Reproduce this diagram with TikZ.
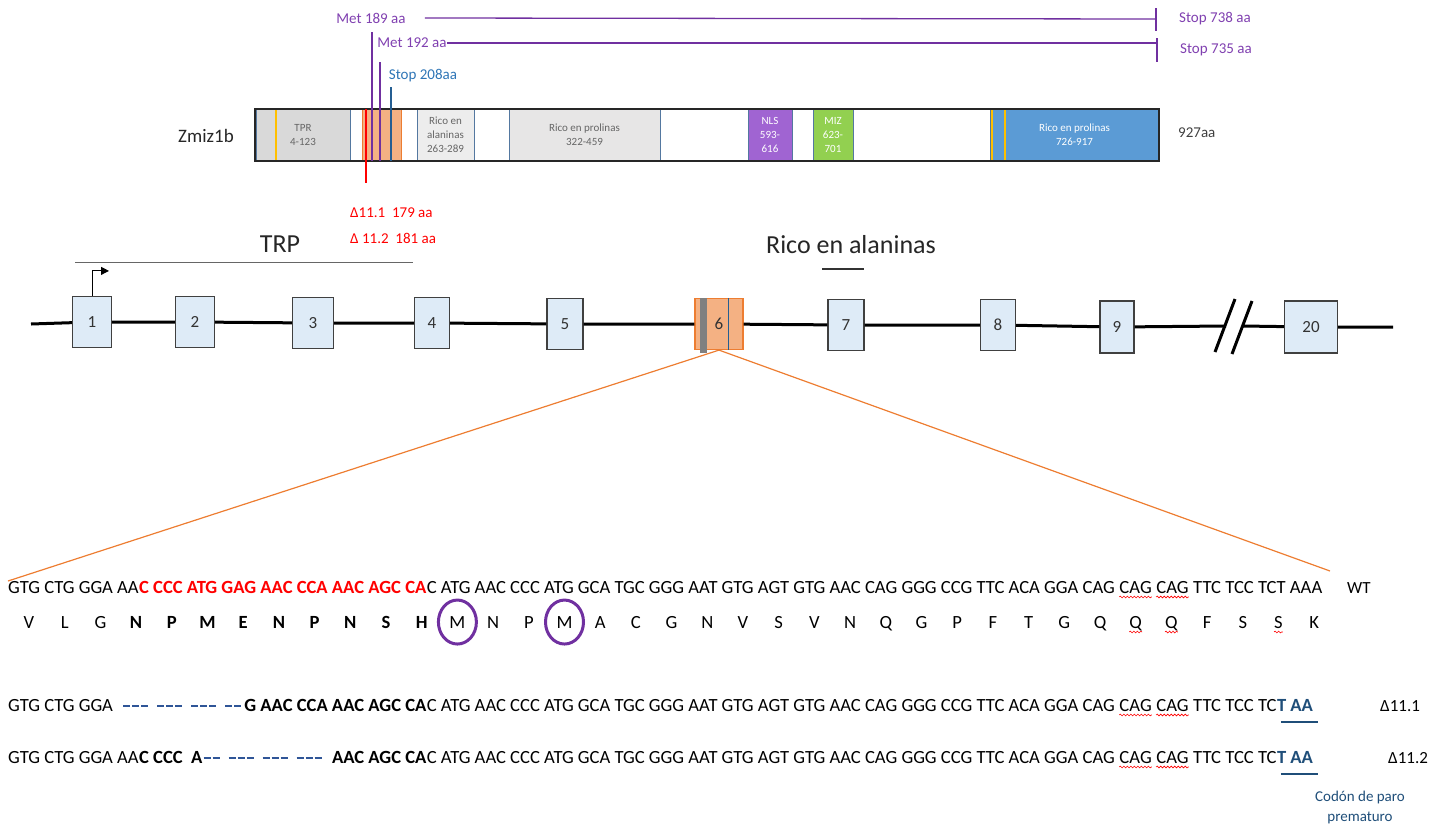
\documentclass[tikz,border=0pt]{standalone}
\usepackage{fontspec}
\setmainfont{Carlito}
\usetikzlibrary{arrows.meta,decorations.pathmorphing}
\definecolor{metpurple}{RGB}{112,48,160}
\definecolor{labpurple}{RGB}{128,64,176}
\definecolor{stopblue}{RGB}{46,117,182}
\definecolor{exonfill}{RGB}{222,235,247}
\definecolor{exondraw}{RGB}{64,64,64}
\definecolor{salmon}{RGB}{244,177,131}
\definecolor{orangeline}{RGB}{237,125,49}
\definecolor{ambar}{RGB}{255,192,0}
\definecolor{domgray}{RGB}{217,217,217}
\definecolor{domlight}{RGB}{231,230,230}
\definecolor{domedge}{RGB}{84,120,160}
\definecolor{nlspurple}{RGB}{160,100,210}
\definecolor{mizgreen}{RGB}{146,208,80}
\definecolor{prolblue}{RGB}{91,155,213}
\definecolor{dashblue}{RGB}{47,85,151}
\definecolor{codonblue}{RGB}{31,78,121}
\tikzset{
  exonbox/.style={draw=exondraw,fill=exonfill,line width=1.2pt,minimum height=51pt,inner sep=0pt,text=black!80,font=\fontsize{17}{19}\selectfont},
  domainbox/.style={draw=domedge,line width=1pt,minimum height=52pt,inner sep=0pt,align=center,text=black!60,font=\fontsize{11}{14}\selectfont},
  backbone/.style={line width=3pt,black},
  seqtext/.style={inner sep=0pt,anchor=base west,font=\fontsize{18.6}{22}\selectfont},
  seqbold/.style={seqtext,font=\fontsize{18.6}{22}\selectfont\bfseries},
  aatext/.style={inner sep=0pt,anchor=base,font=\fontsize{18.6}{22}\selectfont},
  spellwave/.style={red,line width=0.6pt,decorate,decoration={snake,amplitude=0.9pt,segment length=3.5pt}},
  gapdash/.style={dashblue,line width=2pt,dash pattern=on 7pt off 2pt on 7pt off 2pt on 7pt off 9pt},
  metline/.style={metpurple,line width=1.3pt},
  labtext/.style={inner sep=0pt,font=\fontsize{15}{18}\selectfont},
  zoomline/.style={orangeline,line width=1.2pt}
}

\begin{document}
\begin{tikzpicture}[x=1pt,y=-1pt]
  \useasboundingbox (0,0) rectangle (1442,828);
  % proteina
  \node[domainbox,fill=domgray,minimum width=94pt] (tpr) at (303,135) {TPR\\4-123};
  \node[domainbox,fill=salmon,draw=orangeline,minimum width=39pt] (pex6) at (381.5,135) {};
  \node[domainbox,fill=black!7,minimum width=57pt] (ala) at (445.5,135) {Rico en\\alaninas\\263-289};
  \node[domainbox,fill=domlight,minimum width=151pt] (pro1) at (584.5,135) {Rico en prolinas\\322-459};
  \node[domainbox,fill=nlspurple,text=white,minimum width=44pt] (nls) at (770,135) {NLS\\593-\\616};
  \node[domainbox,fill=mizgreen,text=white,minimum width=40pt] (miz) at (833,135) {MIZ\\623-\\701};
  \node[domainbox,fill=prolblue,text=white,minimum width=169pt] (pro2) at (1074.5,135) {Rico en prolinas\\726-917};
  \draw[ambar,line width=2pt] (276,110) -- (276,160) (992,110) -- (992,160) (1005,110) -- (1005,160);
  \draw[line width=2pt,black!85] (255,109) rectangle (1159,161);
  \node[labtext,font=\fontsize{19}{22}\selectfont,text=black!85] (zmiz) at (206,136) {Zmiz1b};
  \node[labtext,text=black!75,anchor=west] (len) at (1178,133) {927aa};

  \draw[metpurple,line width=2pt] (372,32) -- (372,161) (380,62) -- (380,161);
  \draw[stopblue!80!black,line width=1.2pt] (391,87) -- (391,161);
  \draw[red,line width=2.5pt] (366,109) -- (366,183);

  \node[labtext,text=labpurple] (met189) at (371,18) {Met 189 aa};
  \node[labtext,text=labpurple] (met192) at (412,43) {Met 192 aa};
  \node[labtext,text=stopblue] (stop208) at (423,76) {Stop 208aa};
  \node[labtext,text=labpurple,anchor=west] (stop738) at (1179,19) {Stop 738 aa};
  \node[labtext,text=labpurple,anchor=west] (stop735) at (1180,50) {Stop 735 aa};
  \coordinate (tick1) at (1156,19);
  \coordinate (tick2) at (1157,43);
  \draw[metline] ([xshift=19pt]met189.east) -- (tick1);
  \draw[metline] (met192.east) -- (tick2);
  \draw[metline] (1156,8) -- (1156,31) (1157,38) -- (1157,62);

  \node[labtext,text=red,anchor=west] (del1) at (350,213) {Δ11.1\ \ 179 aa};
  \node[labtext,text=red,anchor=west] (del2) at (350,238) {Δ 11.2\ \ 181 aa};

  % gen
  \node[labtext,font=\fontsize{26}{30}\selectfont,text=black!85] (trp) at (280,244) {TRP};
  \draw[black!60,line width=1pt] (75,262) -- (413,262);
  \node[labtext,font=\fontsize{26}{30}\selectfont,text=black!85] (ricoala) at (851,245) {Rico en alaninas};
  \draw[black!80,line width=1.2pt] (822,269) -- (864,269);

  \node[exonbox,minimum width=39pt] (e1) at (92,322) {1};
  \node[exonbox,minimum width=39pt] (e2) at (195,322) {2};
  \node[exonbox,minimum width=41pt] (e3) at (313,323) {3};
  \node[exonbox,minimum width=35pt] (e4) at (432,323) {4};
  \node[exonbox,minimum width=36pt] (e5) at (565,324) {5};
  \node[exonbox,minimum width=48pt,fill=salmon,draw=orangeline] (e6) at (719,324) {6};
  \node[exonbox,minimum width=36pt] (e7) at (846,325) {7};
  \node[exonbox,minimum width=35pt] (e8) at (998,325) {8};
  \node[exonbox,minimum width=34pt,minimum height=52pt] (e9) at (1117,327) {9};
  \node[exonbox,minimum width=53pt,minimum height=52pt] (e20) at (1311,327) {20};
  \fill[black!50] ([xshift=6pt]e6.north west) rectangle ([xshift=13pt,yshift=-3pt]e6.south west);
  \draw[stopblue!80!black,line width=1pt] ([xshift=-15pt]e6.north east) -- ([xshift=-15pt]e6.south east);

  \coordinate (gstart) at (31,324);
  \coordinate (gend) at (1393,327);
  \coordinate (brkL) at (1226,326);
  \coordinate (brkR) at (1243,326);
  \draw[backbone] (gstart) -- (e1) -- (e2) -- (e3) -- (e4) -- (e5) -- (e6) -- (e7) -- (e8) -- (e9) -- (brkL);
  \draw[backbone] (brkR) -- (e20) -- (gend);
  \draw[backbone] (1215,352) -- (1235,299) (1232,354) -- (1252,301);
  \draw[line width=1pt,-{Triangle[length=8pt,width=8pt]}] (e1.north) -- ++(0,-25) -- ++(17,0);

  \coordinate (zl) at (8,581);
  \coordinate (zr) at (1330,571);
  \draw[zoomline] (zl) -- (e6.south) -- (zr);

  % secuencias
  \coordinate (rowW) at (0,593);
  \coordinate (rowA) at (0,711);
  \coordinate (rowB) at (0,763);
  \node[seqtext] (wt1) at (8,593) {GTG CTG GGA AA};
  \node[seqbold,text=red] (wt2) at (wt1.base east) {C CCC ATG GAG AAC CCA AAC AGC CA};
  \node[seqtext] (wt3) at (wt2.base east) {C ATG AAC CCC ATG GCA TGC GGG AAT GTG AGT GTG AAC CAG GGG CCG TTC ACA GGA CAG};
  \node[seqtext] (wt4) at ([xshift=4.2pt]wt3.base east) {CAG};
  \node[seqtext] (wt5) at ([xshift=4.2pt]wt4.base east) {CAG};
  \node[seqtext] (wt6) at ([xshift=4.2pt]wt5.base east) {TTC TCC TCT AAA};
  \node[seqtext,font=\fontsize{17}{20}\selectfont] (wtlab) at (1347,593) {WT};

  \foreach \aa [count=\i from 0] in {V,L,G,N,P,M,E,N,P,N,S,H,M,N,P,M,A,C,G,N,V,S,V,N,Q,G,P,F,T,G,Q,Q,Q,F,S,S,K}
    \node[aatext] (aa\i) at ({29+35.7*\i},628) {\ifnum\i>2 \ifnum\i<12 \bfseries\fi\fi\aa};
  \draw[metpurple,line width=3pt] (aa12.center) ellipse (19pt and 22pt);
  \draw[metpurple,line width=3pt] (aa15.center) ellipse (19pt and 22pt);

  \node[seqtext] (da1) at (8,711) {GTG CTG GGA};
  \node[seqbold,anchor=base east] (da2) at (wt3.base west |- rowA) {G AAC CCA AAC AGC CA};
  \node[seqtext] (da3) at (wt3.base west |- rowA) {C ATG AAC CCC ATG GCA TGC GGG AAT GTG AGT GTG AAC CAG GGG CCG TTC ACA GGA CAG};
  \node[seqtext] (da4) at ([xshift=4.2pt]da3.base east) {CAG};
  \node[seqtext] (da5) at ([xshift=4.2pt]da4.base east) {CAG};
  \node[seqtext] (da6) at ([xshift=4.2pt]da5.base east) {TTC TCC TC};
  \node[seqbold,text=codonblue] (da7) at (da6.base east) {T AA};
  \draw[gapdash] ([xshift=10pt,yshift=5pt]da1.base east) -- ([xshift=-3pt,yshift=5pt]da2.base west);
  \draw[codonblue,line width=1.3pt] ([xshift=4pt,yshift=-11pt]da7.base west) -- ([xshift=5pt,yshift=-11pt]da7.base east);
  \node[seqtext,font=\fontsize{17}{20}\selectfont] (lab1) at (1380,711) {Δ11.1};

  \node[seqtext] (db1) at (8,763) {GTG CTG GGA AA};
  \node[seqbold] (db2) at (db1.base east) {C CCC\ \ A};
  \node[seqbold,anchor=base east] (db3) at (wt3.base west |- rowB) {AAC AGC CA};
  \node[seqtext] (db4) at (wt3.base west |- rowB) {C ATG AAC CCC ATG GCA TGC GGG AAT GTG AGT GTG AAC CAG GGG CCG TTC ACA GGA CAG};
  \node[seqtext] (db5) at ([xshift=4.2pt]db4.base east) {CAG};
  \node[seqtext] (db6) at ([xshift=4.2pt]db5.base east) {CAG};
  \node[seqtext] (db7) at ([xshift=4.2pt]db6.base east) {TTC TCC TC};
  \node[seqbold,text=codonblue] (db8) at (db7.base east) {T AA};
  \draw[gapdash,dash phase=9pt] ([xshift=1pt,yshift=5pt]db2.base east) -- ([xshift=-10pt,yshift=5pt]db3.base west);
  \draw[codonblue,line width=1.3pt] ([xshift=4pt,yshift=-11pt]db8.base west) -- ([xshift=5pt,yshift=-11pt]db8.base east);
  \node[seqtext,font=\fontsize{17}{20}\selectfont] (lab2) at (1388,763) {Δ11.2};

  \foreach \n in {wt4,wt5,da4,da5,db5,db6,aa31,aa32,aa35}
    \draw[spellwave] ([yshift=-4pt]\n.base west) -- ([yshift=-4pt]\n.base east);

  \node[labtext,text=codonblue,align=center,font=\fontsize{15}{20}\selectfont] (paro) at (1360,807) {Codón de paro\\prematuro};
\end{tikzpicture}
\end{document}
